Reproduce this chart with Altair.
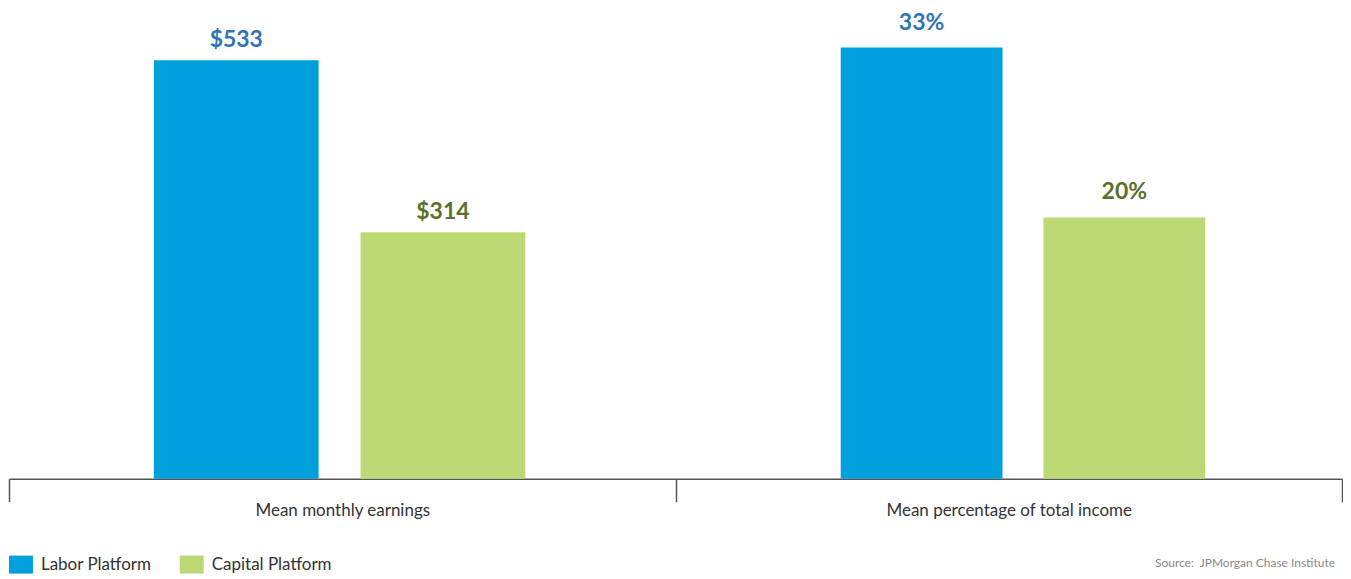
import altair as alt
import pandas as pd

categories = ["Mean monthly earnings", "Mean percentage of total income"]
series = ["Labor Platform", "Capital Platform"]
earnings = [533, 314]
pct = [33, 20]
source_note = "Source:\u00a0\u00a0JPMorgan Chase Institute"

rows = []
for s, v in zip(series, earnings):
    rows.append({"category": categories[0], "series": s, "value": v})
for s, v in zip(series, pct):
    rows.append({"category": categories[1], "series": s, "value": v})
df = pd.DataFrame(rows)

FONT = "Lato"
W, H = 1335, 471

xenc = alt.X("category:N", sort=categories, title=None,
             scale=alt.Scale(paddingInner=0, paddingOuter=0),
             axis=alt.Axis(tickBand="extent", domainColor="#555555", domainWidth=1.5,
                           tickColor="#555555", tickWidth=1.5, tickSize=23,
                           labelFontSize=17, labelColor="#333333", labelFont=FONT,
                           labelPadding=1, labelAngle=0, labelLimit=0))
color = alt.Color("series:N", sort=series,
                  scale=alt.Scale(domain=series, range=["#00A0DC", "#BDD975"]),
                  legend=alt.Legend(orient="none", legendX=0, legendY=545, direction="horizontal",
                                    title=None, labelFontSize=17, labelColor="#333333",
                                    labelFont=FONT, symbolType="M-1,-0.75H1V0.75H-1Z",
                                    symbolSize=576, symbolStrokeWidth=0, labelOffset=8,
                                    columnPadding=28))
textcolor = alt.condition(alt.datum.series == series[0], alt.value("#2E75B5"), alt.value("#5A712B"))

base = alt.Chart(df)

def panel(cat, maxv, fmt, p_in, p_out, align, dy):
    b = base.transform_filter(alt.datum.category == cat)
    y = alt.Y("value:Q", scale=alt.Scale(domain=[0, maxv]), axis=None)
    xoff = alt.XOffset("series:N", sort=series,
                       scale=alt.Scale(type="band", paddingInner=p_in, paddingOuter=p_out, align=align))
    bars = b.mark_bar().encode(x=xenc, xOffset=xoff, y=y, color=color)
    txt = b.transform_calculate(label=fmt).mark_text(
        baseline="bottom", dy=dy, fontSize=23, fontWeight="bold", font=FONT
    ).encode(x=xenc, xOffset=xoff, y=y, text="label:N", color=textcolor)
    return bars, txt

b1, t1 = panel(categories[0], 599, "'$' + datum.value", 0.203, 0.714, 0.491, -8)
b2, t2 = panel(categories[1], 36, "datum.value + '%'", 0.202, 0.745, 0.547, -13)

src = alt.Chart(pd.DataFrame({"t": [source_note]})).mark_text(
    align="right", baseline="middle", fontSize=12, color="#888888", font=FONT
).encode(text="t:N", x=alt.value(1328), y=alt.value(555))

chart = alt.layer(b1, t1, b2, t2, src).resolve_scale(
    y="independent", xOffset="independent"
).properties(
    width=W, height=H, padding=0
).configure_view(stroke=None)

chart.save("out.html", embed_options={"renderer": "svg", "actions": False})
